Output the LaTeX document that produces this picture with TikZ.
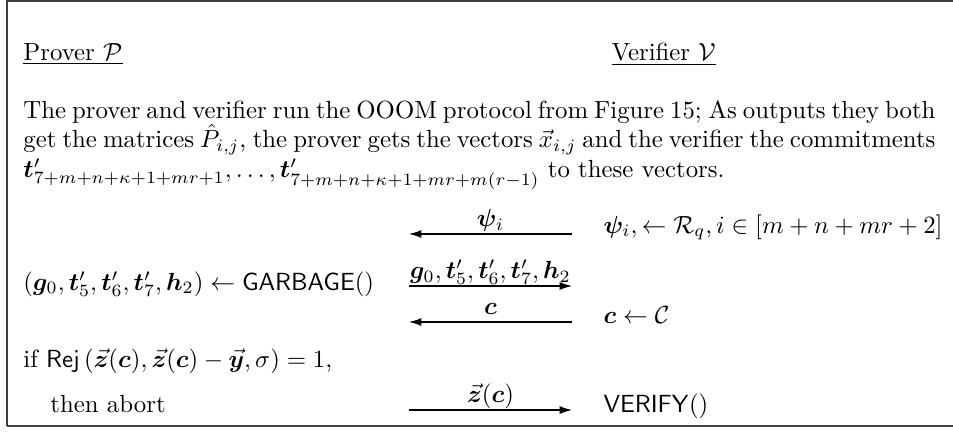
\documentclass[tikz,border=0pt]{standalone}
\usepackage{amsmath,amssymb}
\usepackage{bm}
\usetikzlibrary{arrows.meta}
\begin{document}
\begin{tikzpicture}[x=0.4032pt,y=-0.4032pt,
  txt/.style={inner sep=0pt,anchor=base west},
  msg/.style={draw=none,inner sep=0pt,anchor=base,yshift=3.1pt},
  arr/.style={-{Latex[length=5pt,width=3.2pt]},line width=0.45pt},
  frame/.style={line width=0.5pt,draw=black!75}]
\useasboundingbox (0,0) rectangle (953,431);
\draw[frame] (7,426) -- (7,1) -- (953,1);
\draw[frame] (7,426) -- (953,426);
% headers
\node[txt] (prover) at (23,60) {\underline{Prover $\mathcal{P}$}};
\node[txt] (verifier) at (611,60) {\underline{Verifier $\mathcal{V}$}};
% paragraph
\node[txt] (intro) at (23,118) {\parbox[t]{367.7pt}{The prover and verifier run the OOOM protocol from Figure 15; As outputs they both get the matrices $\hat{P}_{i,j}$, the prover gets the vectors $\vec{x}_{i,j}$ and the verifier the commitments $\bm{t}'_{7+m+n+\kappa+1+mr+1},\ldots,\bm{t}'_{7+m+n+\kappa+1+mr+m(r-1)}$ to these vectors.}};
% left column
\node[txt] (garbage) at (23,290) {$(\bm{g}_0,\bm{t}'_5,\bm{t}'_6,\bm{t}'_7,\bm{h}_2)\leftarrow\mathsf{GARBAGE}()$};
\node[txt] (rej) at (23,367) {if $\mathsf{Rej}\left(\vec{\bm{z}}(\bm{c}),\vec{\bm{z}}(\bm{c})-\vec{\bm{y}},\sigma\right)=1$,};
\node[txt] (abort) at (50,412) {then abort};
% right column
\node[txt] (psi) at (603,233) {$\bm{\psi}_i,\leftarrow\mathcal{R}_q, i\in[m+n+mr+2]$};
\node[txt] (csample) at (603,323) {$\bm{c}\leftarrow\mathcal{C}$};
\node[txt] (verify) at (603,412) {$\mathsf{VERIFY}()$};
% arrows
\coordinate (a1l) at (409,234); \coordinate (a1r) at (572,234);
\coordinate (a2l) at (409,286); \coordinate (a2r) at (572,286);
\coordinate (a3l) at (409,322); \coordinate (a3r) at (572,322);
\coordinate (a4l) at (409,410); \coordinate (a4r) at (572,410);
\draw[arr] (a1r) -- node[msg] (m1) {$\bm{\psi}_i$} (a1l);
\draw[arr] (a2l) -- node[msg] (m2) {$\bm{g}_0,\bm{t}'_5,\bm{t}'_6,\bm{t}'_7,\bm{h}_2$} (a2r);
\draw[arr] (a3r) -- node[msg] (m3) {$\bm{c}$} (a3l);
\draw[arr] (a4l) -- node[msg] (m4) {$\vec{\bm{z}}(\bm{c})$} (a4r);
\end{tikzpicture}
\end{document}
